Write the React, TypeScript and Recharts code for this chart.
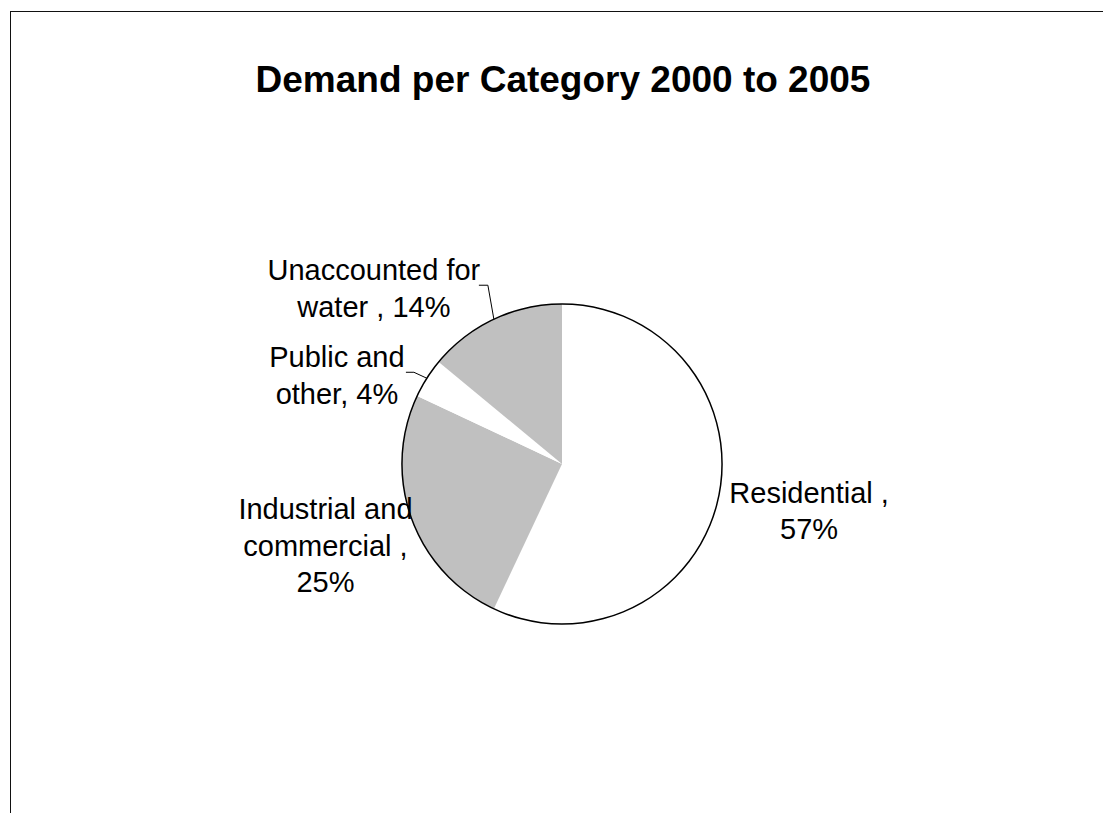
import React from 'react';
import { PieChart, Pie, Cell } from 'recharts';

const categories = ['Residential', 'Industrial and commercial', 'Public and other', 'Unaccounted for water'];
const shares = [57, 25, 4, 14];
// label text per slice, the percentage is appended to the last line
const labelLines = [
  ['Residential ,', ''],
  ['Industrial and', 'commercial ,', ''],
  ['Public and', 'other, '],
  ['Unaccounted for', 'water , '],
];
const sliceColors = ['#FFFFFF', '#C0C0C0', '#FFFFFF', '#C0C0C0'];

const data = categories.map((name, i) => ({ name, value: shares[i] }));
const total = shares.reduce((a, b) => a + b, 0);

// label placement relative to the slice's mid point on the rim
const labelOffsets = [
  { dx: 91, dy: 4 },
  { dx: -86, dy: 1 },
  { dx: -90, dy: -11 },
  { dx: -120, dy: -39 },
];
// leader lines (elbow and end, relative to rim point); null = none
const leaders: ({ ex: number; ey: number; tx: number; ty: number } | null)[] = [
  null,
  null,
  { ex: -13, ey: -6, tx: -21, ty: -6 },
  { ex: -6, ey: -34, tx: -15, ty: -34 },
];

const RADIAN = Math.PI / 180;
const FONT = '"Liberation Sans", Arial, sans-serif';

const renderLabel = (props: any) => {
  const { cx, cy, midAngle, outerRadius, index, value } = props;
  const ax = cx + outerRadius * Math.cos(-midAngle * RADIAN);
  const ay = cy + outerRadius * Math.sin(-midAngle * RADIAN);
  const off = labelOffsets[index];
  const lines = labelLines[index].slice();
  const pct = Math.round((value / total) * 100);
  lines[lines.length - 1] = lines[lines.length - 1] + pct + '%';
  const ld = leaders[index];
  return (
    <g key={`lbl-${index}`}>
      {ld && (
        <polyline
          points={`${ax},${ay} ${ax + ld.ex},${ay + ld.ey} ${ax + ld.tx},${ay + ld.ty}`}
          fill="none"
          stroke="#000"
          strokeWidth={1}
        />
      )}
      <text
        x={ax + off.dx}
        y={ay + off.dy}
        textAnchor="middle"
        fontFamily={FONT}
        fontSize={29}
        fill="#000"
      >
        {lines.map((l, i) => (
          <tspan key={i} x={ax + off.dx} dy={i === 0 ? 0 : 36.5}>
            {l}
          </tspan>
        ))}
      </text>
    </g>
  );
};

export default function App() {
  return (
    <div
      style={{
        position: 'fixed',
        left: 0,
        top: 0,
        width: 1103,
        height: 813,
        overflow: 'hidden',
        background: '#fff',
      }}
    >
      <div
        style={{
          position: 'absolute',
          left: 10,
          top: 11,
          width: 2000,
          height: 2000,
          borderLeft: '1.5px solid #111',
          borderTop: '1.5px solid #111',
        }}
      />
      <div
        style={{
          position: 'absolute',
          left: 0,
          top: 61,
          width: 1126,
          textAlign: 'center',
          fontFamily: FONT,
          fontWeight: 'bold',
          fontSize: 37,
          lineHeight: '37px',
          color: '#000',
          whiteSpace: 'nowrap',
        }}
      >
        Demand per Category 2000 to 2005
      </div>
      <div style={{ position: 'absolute', left: 0, top: 0 }}>
        <PieChart width={1103} height={813} margin={{ top: 0, right: 0, bottom: 0, left: 0 }}>
          <Pie
            data={data}
            dataKey="value"
            nameKey="name"
            cx={562}
            cy={464}
            outerRadius={160}
            startAngle={90}
            endAngle={-270}
            stroke="none"
            label={renderLabel}
            labelLine={false}
            isAnimationActive={false}
          >
            {data.map((d, i) => (
              <Cell key={d.name} fill={sliceColors[i]} />
            ))}
          </Pie>
          <Pie
            data={[{ name: 'outline', value: total }]}
            dataKey="value"
            cx={562}
            cy={464}
            innerRadius={159.3}
            outerRadius={160.8}
            startAngle={90}
            endAngle={-270}
            fill="#000"
            stroke="none"
            isAnimationActive={false}
          />
        </PieChart>
      </div>
    </div>
  );
}
